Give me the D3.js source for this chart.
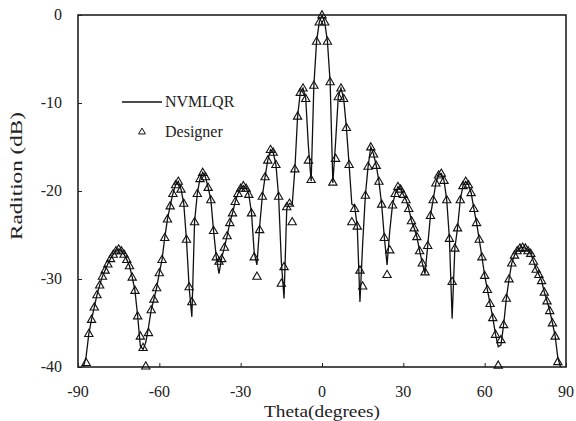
<!DOCTYPE html>
<head>
  <meta charset="utf-8">
  <script src="https://d3js.org/d3.v7.min.js"></script>
  <style>
    body { margin: 0; background: #fff; }
    text { font-family: "Liberation Serif", "Times New Roman", serif; fill: #222; }
  </style>
</head>
<body>

<div id="my_dataviz"></div>

<script>

  // angles (degrees) where both patterns were sampled
  var theta = [-88,-87,-86,-85,-84,-83,-82,-81,-80,-79,-78,-77,-76,-75,-74,-73,-72,-71,-70,-69,
    -68,-67,-66,-65,-64,-63,-62,-61,-60,-59,-58,-57,-56,-55,-54,-53,-52,-51,-50,-49,
    -48,-47,-46,-45,-44,-43,-42,-41,-40,-39,-38,-37,-36,-35,-34,-33,-32,-31,-30,-29,
    -28,-27,-26,-25,-24,-23,-22,-21,-20,-19,-18,-17,-16,-15,-14,-13,-12,-11,-10,-9,
    -8,-7,-6,-5,-4,-3,-2,-1,0,1,2,3,4,5,6,7,8,9,10,11,
    12,13,14,15,16,17,18,19,20,21,22,23,24,25,26,27,28,29,30,31,
    32,33,34,35,36,37,38,39,40,41,42,43,44,45,46,47,48,49,50,51,
    52,53,54,55,56,57,58,59,60,61,62,63,64,65,66,67,68,69,70,71,
    72,73,74,75,76,77,78,79,80,81,82,83,84,85,86,87,88];

  // NVMLQR pattern (dB)
  var nvmlqr = [-40.0,-38.8,-36.2,-34.6,-33.2,-31.8,-30.7,-29.7,-29.0,-28.3,-27.7,-27.2,-26.8,-26.6,-26.8,-27.2,-27.8,-28.5,-29.8,-31.3,
    -34.2,-37.6,-38.0,-37.2,-35.5,-33.5,-32.3,-31.0,-29.3,-27.8,-25.3,-23.2,-21.7,-20.3,-19.3,-18.9,-19.8,-21.4,-25.5,-31.0,
    -34.3,-23.5,-20.3,-18.6,-17.9,-18.4,-19.6,-21.0,-24.5,-27.5,-29.4,-27.6,-26.4,-25.1,-23.6,-22.5,-21.2,-20.3,-19.7,-19.4,
    -19.7,-20.4,-22.5,-27.0,-28.4,-24.0,-20.6,-18.4,-16.5,-15.3,-15.6,-17.0,-20.6,-28.0,-32.2,-22.0,-21.4,-21.6,-17.5,-11.5,
    -8.8,-8.3,-9.5,-15.0,-18.9,-8.0,-3.0,-0.8,0,-0.8,-3.0,-7.6,-19.1,-14.5,-9.3,-8.3,-9.5,-12.8,-17.0,-21.5,
    -21.7,-24.0,-32.6,-26.0,-20.5,-17.2,-15.0,-15.8,-17.1,-18.9,-21.5,-25.3,-28.4,-24.5,-21.6,-20.3,-19.5,-19.8,-20.4,-21.0,
    -22.0,-23.4,-24.2,-25.2,-26.8,-28.2,-29.4,-26.2,-22.8,-21.0,-19.1,-18.2,-18.0,-18.8,-21.0,-25.4,-34.5,-26.5,-24.2,-21.0,
    -19.4,-18.9,-19.3,-20.2,-22.0,-23.6,-25.5,-27.5,-29.6,-31.2,-32.8,-34.4,-36.3,-37.7,-37.5,-35.2,-32.2,-30.0,-28.2,-27.3,
    -26.8,-26.5,-26.4,-26.5,-26.8,-27.1,-28.0,-28.9,-29.5,-30.2,-31.5,-32.5,-33.6,-35.0,-36.5,-39.0,-40.0];

  // Designer pattern (dB), null where no marker is shown
  var designer = [null,-39.5,-36.2,-34.6,-33.2,-31.8,-30.7,-29.7,-29.0,-28.3,-27.7,-27.2,-26.8,-26.6,-26.8,-27.2,-27.8,-28.5,-29.8,-31.3,
    -34.2,-36.5,-37.8,-39.9,-36.1,-33.5,-32.3,-31.0,-29.3,-27.8,-25.3,-23.2,-21.7,-20.3,-19.3,-18.9,-19.8,-21.4,-25.5,-30.9,
    -32.6,-23.5,-20.3,-18.6,-17.9,-18.4,-19.6,-21.0,-24.5,-27.5,-28.0,-27.7,-26.4,-25.1,-23.6,-22.5,-21.2,-20.3,-19.7,-19.4,
    -19.7,-20.4,-22.5,-27.5,-29.7,-24.4,-20.6,-18.4,-16.5,-15.3,-15.6,-17.0,-20.6,-30.5,-28.6,-21.8,-21.4,-23.5,-17.5,-11.5,
    -8.8,-8.3,-9.5,-16.5,-18.7,-8.0,-3.0,-0.8,0,-0.8,-3.0,-7.6,-19.0,-16.3,-9.3,-8.3,-9.5,-12.8,-17.0,-23.5,
    -22.0,-24.0,-29.0,-30.8,-20.5,-17.2,-15.0,-15.8,-17.1,-18.9,-21.5,-25.3,-29.5,-26.7,-21.6,-20.3,-19.5,-19.8,-20.4,-21.0,
    -22.0,-23.4,-24.2,-25.2,-26.8,-28.2,-29.2,-26.2,-22.8,-21.0,-19.1,-18.2,-18.0,-18.8,-21.0,-25.4,-30.3,-26.5,-24.2,-21.0,
    -19.4,-18.9,-19.3,-20.2,-22.0,-23.6,-25.5,-27.5,-29.6,-31.2,-32.8,-34.4,-36.3,-39.8,-36.9,-35.2,-32.2,-30.0,-28.2,-27.3,
    -26.8,-26.5,-26.4,-26.5,-26.8,-27.1,-28.0,-28.9,-29.5,-30.2,-31.5,-32.5,-33.6,-35.0,-36.5,-39.4,null];

  var xTicks = [-90, -60, -30, 0, 30, 60, 90];
  var yTicks = [0, -10, -20, -30, -40];
  var seriesNames = ["NVMLQR", "Designer"];

  // set the dimensions and margins of the graph
  var margin = {top: 15, right: 10, bottom: 54, left: 78},
    width = 576 - margin.left - margin.right,
    height = 421 - margin.top - margin.bottom;

  var svg = d3.select("#my_dataviz")
  .append("svg")
    .attr("width", 576)
    .attr("height", 421)
  .append("g")
    .attr("transform", "translate(" + margin.left + "," + margin.top + ")");

  var x = d3.scaleLinear().domain([-90, 90]).range([0, width]);
  var y = d3.scaleLinear().domain([-40, 0]).range([height, 0]);

  // ticks inside the frame, labels drawn separately
  svg.append("g")
    .attr("transform", "translate(0," + height + ")")
    .call(d3.axisBottom(x).tickValues(xTicks).tickSizeInner(-4).tickSizeOuter(0).tickFormat(""))
    .call(function(g) { g.select(".domain").remove(); })
    .selectAll("line").attr("stroke", "#222");

  svg.append("g")
    .call(d3.axisLeft(y).tickValues(yTicks).tickSizeInner(-4).tickSizeOuter(0).tickFormat(""))
    .call(function(g) { g.select(".domain").remove(); })
    .selectAll("line").attr("stroke", "#222");

  svg.selectAll(".xlab")
    .data(xTicks)
    .enter()
    .append("text")
      .attr("x", function(d) { return x(d) })
      .attr("y", height + 30)
      .attr("text-anchor", "middle")
      .style("font-size", "16px")
      .text(function(d) { return d });

  svg.selectAll(".ylab")
    .data(yTicks)
    .enter()
    .append("text")
      .attr("x", -16)
      .attr("y", function(d) { return y(d) + 5 })
      .attr("text-anchor", "end")
      .style("font-size", "16px")
      .text(function(d) { return d });

  // frame
  svg.append("rect")
    .attr("width", width)
    .attr("height", height)
    .attr("fill", "none")
    .attr("stroke", "#222")
    .attr("stroke-width", 1.6);

  var pts = theta.map(function(t, i) { return {t: t, a: nvmlqr[i], b: designer[i]} });

  svg.append("path")
    .datum(pts)
    .attr("fill", "none")
    .attr("stroke", "#111")
    .attr("stroke-width", 1.3)
    .attr("d", d3.line()
      .x(function(d) { return x(d.t) })
      .y(function(d) { return y(Math.max(d.a, -40)) }));

  var tri = d3.symbol().type(d3.symbolTriangle).size(30);

  svg.selectAll(".tri")
    .data(pts.filter(function(d) { return d.b !== null }))
    .enter()
    .append("path")
      .attr("d", tri)
      .attr("transform", function(d) { return "translate(" + x(d.t) + "," + (y(d.b) + 0.5) + ")" })
      .attr("fill", "none")
      .attr("stroke", "#111")
      .attr("stroke-width", 1.1);

  // legend
  var leg = svg.append("g").attr("transform", "translate(44,87)");
  leg.append("line")
    .attr("x1", 0).attr("x2", 40).attr("y1", 0).attr("y2", 0)
    .attr("stroke", "#111").attr("stroke-width", 1.3);
  leg.append("text").attr("x", 43).attr("y", 5).style("font-size", "16px").text(seriesNames[0]);
  leg.append("path").attr("d", d3.symbol().type(d3.symbolTriangle).size(20))
    .attr("transform", "translate(20,30)")
    .attr("fill", "none").attr("stroke", "#111");
  leg.append("text").attr("x", 43).attr("y", 35).style("font-size", "16px").text(seriesNames[1]);

  // axis titles
  svg.append("text")
    .attr("x", width / 2)
    .attr("y", height + 50)
    .attr("text-anchor", "middle")
    .attr("textLength", 116)
    .attr("lengthAdjust", "spacingAndGlyphs")
    .style("font-size", "16px")
    .text("Theta(degrees)");

  svg.append("text")
    .attr("transform", "translate(-56," + (height / 2 - 15) + ") rotate(-90)")
    .attr("text-anchor", "middle")
    .attr("textLength", 128)
    .attr("lengthAdjust", "spacingAndGlyphs")
    .style("font-size", "17px")
    .text("Radition (dB)");

</script>
</body>
